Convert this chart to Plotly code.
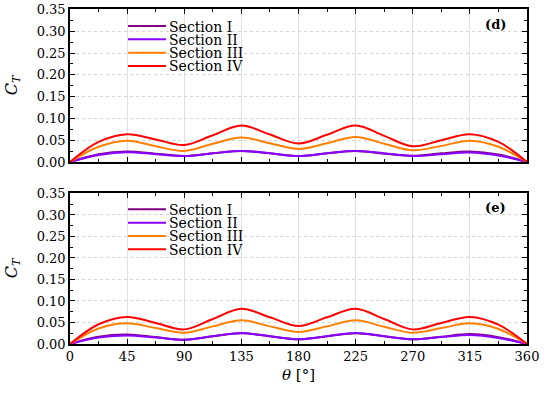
import plotly.graph_objects as go

theta = [0, 22.5, 45, 67.5, 90, 112.5, 135, 157.5, 180, 202.5, 225, 247.5, 270, 292.5, 315, 337.5, 360]
x_ticks = [0, 45, 90, 135, 180, 225, 270, 315, 360]
y_ticks = [0.00, 0.05, 0.10, 0.15, 0.20, 0.25, 0.30, 0.35]
names = ["Section I", "Section II", "Section III", "Section IV"]
colors = ["#800080", "#8a00ff", "#ff8000", "#ff0000"]

# panel (d)
d_sec1 = [0, 0.018, 0.024, 0.019, 0.0140, 0.020, 0.025, 0.020, 0.0140, 0.020, 0.025, 0.019, 0.0142, 0.020, 0.024, 0.017, 0]
d_sec2 = [0, 0.016, 0.0225, 0.018, 0.0135, 0.020, 0.0255, 0.020, 0.0138, 0.020, 0.0255, 0.020, 0.0140, 0.018, 0.022, 0.015, 0]
d_sec3 = [0, 0.035, 0.049, 0.036, 0.0255, 0.042, 0.056, 0.043, 0.030, 0.043, 0.0576, 0.042, 0.027, 0.037, 0.049, 0.035, 0]
d_sec4 = [0, 0.046, 0.0638, 0.0516, 0.039, 0.0615, 0.0837, 0.063, 0.0424, 0.0625, 0.0837, 0.060, 0.036, 0.050, 0.0638, 0.046, 0]

# panel (e)
e_sec1 = [0, 0.017, 0.022, 0.016, 0.010, 0.018, 0.025, 0.018, 0.011, 0.018, 0.025, 0.018, 0.011, 0.017, 0.023, 0.016, 0]
e_sec2 = [0, 0.015, 0.020, 0.015, 0.0098, 0.018, 0.0257, 0.018, 0.011, 0.018, 0.0257, 0.018, 0.011, 0.016, 0.021, 0.014, 0]
e_sec3 = [0, 0.036, 0.048, 0.037, 0.026, 0.041, 0.055, 0.041, 0.028, 0.041, 0.055, 0.040, 0.026, 0.037, 0.048, 0.035, 0]
e_sec4 = [0, 0.046, 0.063, 0.049, 0.034, 0.058, 0.082, 0.062, 0.0416, 0.062, 0.082, 0.058, 0.034, 0.049, 0.063, 0.045, 0]

FONT = "DejaVu Serif"
fig = go.Figure()

for ys, nm, c in zip([d_sec1, d_sec2, d_sec3, d_sec4], names, colors):
    fig.add_trace(go.Scatter(x=theta, y=ys, name=nm, mode="lines", showlegend=False,
                             line=dict(color=c, width=2, shape="spline", smoothing=1.0),
                             xaxis="x", yaxis="y"))
for ys, nm, c in zip([e_sec1, e_sec2, e_sec3, e_sec4], names, colors):
    fig.add_trace(go.Scatter(x=theta, y=ys, name=nm, mode="lines", showlegend=False,
                             line=dict(color=c, width=2, shape="spline", smoothing=1.0),
                             xaxis="x2", yaxis="y2"))

common_x = dict(range=[0, 360], tickvals=x_ticks, showline=True, linecolor="black", linewidth=1.5,
                mirror="allticks", ticks="inside", ticklen=5, tickcolor="black", automargin=False,
                showgrid=True, gridcolor="#e0e0e0", gridwidth=1, zeroline=False,
                minor=dict(dtick=22.5, tick0=0, ticks="inside", ticklen=3, tickcolor="black", showgrid=False),
                tickfont=dict(family=FONT, size=13, color="black"))
common_y = dict(range=[0, 0.351], tickvals=y_ticks, tickformat=".2f", showline=True, linecolor="black",
                linewidth=1.5, mirror="allticks", ticks="inside", ticklen=5, tickcolor="black", automargin=False,
                showgrid=True, gridcolor="#d5d5d5", griddash="3px,3px", gridwidth=1, zeroline=False,
                minor=dict(dtick=0.025, tick0=0, ticks="inside", ticklen=3, tickcolor="black", showgrid=False),
                tickfont=dict(family=FONT, size=13, color="black"),
                title=dict(text="<i>C<sub>T</sub></i>", font=dict(family=FONT, size=16, color="black")))

# manual legend placement (paper coordinates): rows for each panel
leg_rows_top = [0.949, 0.9096, 0.8696, 0.8299]
leg_rows_bot = [0.402, 0.362, 0.3224, 0.2827]
shapes = []
annotations = []
for rows in (leg_rows_top, leg_rows_bot):
    for yy, nm, c in zip(rows, names, colors):
        shapes.append(dict(type="line", xref="paper", yref="paper", x0=0.127, x1=0.210, y0=yy, y1=yy,
                           line=dict(color=c, width=2)))
        annotations.append(dict(text=nm, x=0.2155, y=yy, xref="paper", yref="paper", xanchor="left",
                                yanchor="middle", showarrow=False, borderpad=0, height=13,
                                font=dict(family=FONT, size=14, color="black")))

annotations += [
    dict(text="<b>(d)</b>", x=0.958, y=0.9552, xref="paper", yref="paper", xanchor="right", yanchor="middle",
         showarrow=False, font=dict(family=FONT, size=13, color="black")),
    dict(text="<b>(e)</b>", x=0.958, y=0.406, xref="paper", yref="paper", xanchor="right", yanchor="middle",
         showarrow=False, font=dict(family=FONT, size=13, color="black")),
]

fig.update_layout(
    width=550, height=396,
    margin=dict(l=70, r=23, t=9, b=52),
    paper_bgcolor="white", plot_bgcolor="white",
    font=dict(family=FONT, color="black"),
    showlegend=False,
    xaxis=dict(common_x, domain=[0, 1], anchor="y", showticklabels=False),
    yaxis=dict(common_y, domain=[0.5433, 1], anchor="x"),
    xaxis2=dict(common_x, domain=[0, 1], anchor="y2",
                title=dict(text="<i>θ</i> [°]", font=dict(family=FONT, size=15, color="black"), standoff=6)),
    yaxis2=dict(common_y, domain=[0, 0.4507], anchor="x2"),
    shapes=shapes,
    annotations=annotations,
)

# remove the default 8 px page margin so the 550x396 figure fills the window exactly
fig.write_html("out.html", config={"displayModeBar": False},
               post_script="document.body.style.margin='0';")
